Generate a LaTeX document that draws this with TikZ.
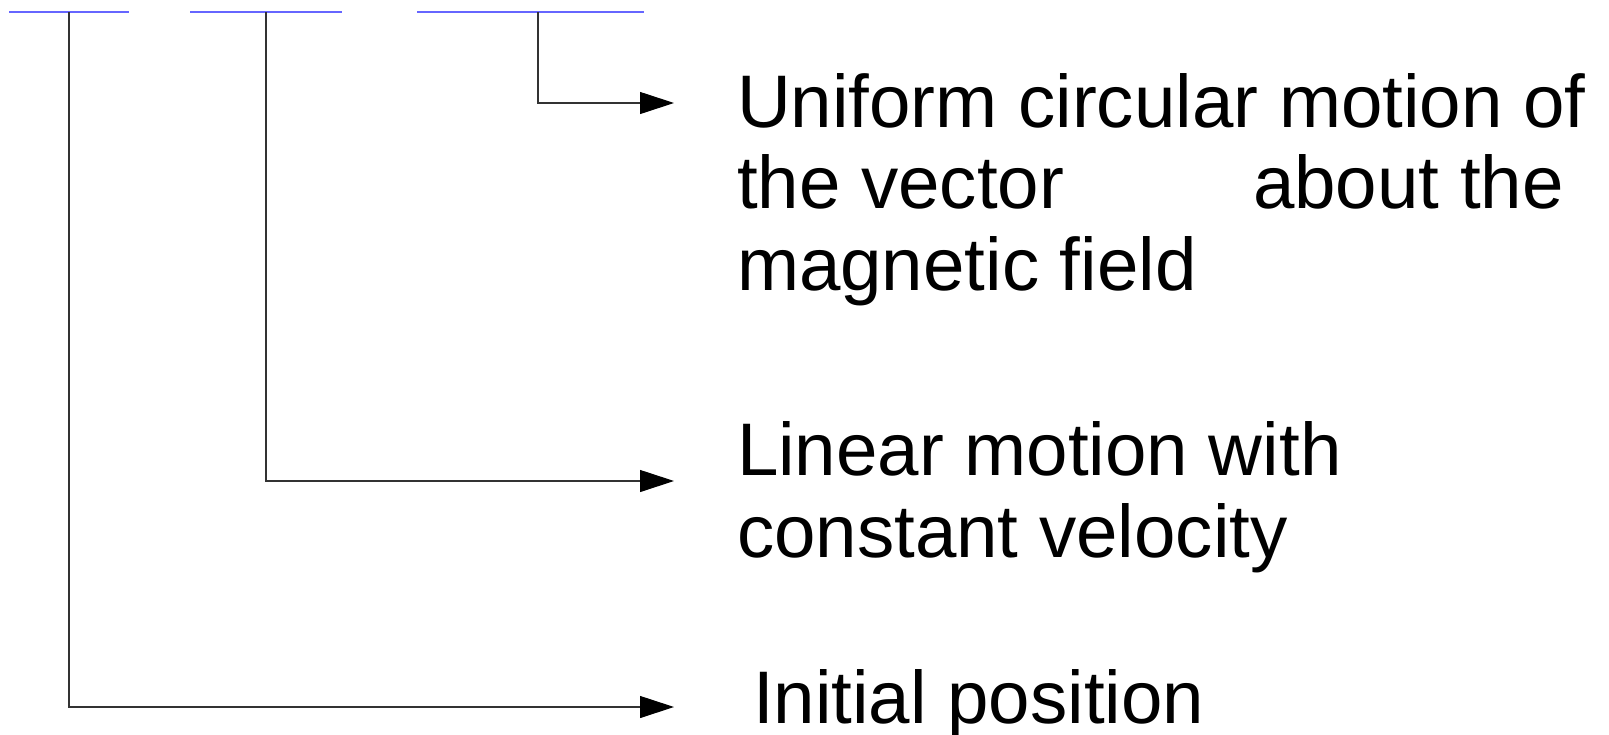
\documentclass[tikz,border=0pt]{standalone}
\usepackage{fontspec}
\setmainfont{Liberation Sans}
\usetikzlibrary{arrows.meta}
\definecolor{barblue}{RGB}{102,102,255}
\tikzset{
  bar/.style={draw=barblue, line width=1.6pt},
  conn/.style={draw=black!80, line width=1.1pt, -{Triangle[length=34pt,width=22pt,color=black]}},
  lbl/.style={anchor=base west, inner sep=0pt, outer sep=0pt, align=left,
              font=\fontsize{74.5}{81.5}\selectfont}
}
\begin{document}
\begin{tikzpicture}[x=1pt,y=-1pt]
\useasboundingbox (0,0) rectangle (1609,734);
% top bars
\coordinate (b1l) at (9,12);   \coordinate (b1r) at (129,12);
\coordinate (b2l) at (190,12); \coordinate (b2r) at (342,12);
\coordinate (b3l) at (417,12); \coordinate (b3r) at (644,12);
\draw[bar] (b1l) -- (b1r);
\draw[bar] (b2l) -- (b2r);
\draw[bar] (b3l) -- (b3r);
\coordinate (v1) at (69,12);
\coordinate (v2) at (266,12);
\coordinate (v3) at (538,12);
% arrow ends
\coordinate (a1) at (674,707);
\coordinate (a2) at (674,481);
\coordinate (a3) at (674,103);
% labels (base anchor = baseline of the last line)
\node[lbl] (l3) at (737,290) {Uniform circular motion of\\the vector\hspace*{189pt}about the\\magnetic field};
\node[lbl] (l2) at (737,557) {Linear motion with\\constant velocity};
\node[lbl] (l1) at (753,723) {Initial position};
% connectors
\draw[conn] (v3) |- (a3);
\draw[conn] (v2) |- (a2);
\draw[conn] (v1) |- (a1);
\end{tikzpicture}
\end{document}
